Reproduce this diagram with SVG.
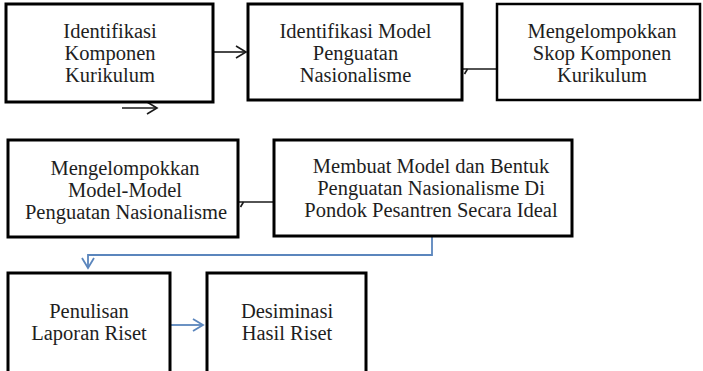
<svg xmlns="http://www.w3.org/2000/svg" width="703" height="371" viewBox="0 0 703 371">
  <style>
    .box { fill: #ffffff; stroke: #000000; stroke-width: 3; }
    .lbl { font-family: 'Liberation Serif', 'Noto Serif', 'DejaVu Serif', 'Nimbus Roman', 'Nimbus Roman No9 L', 'FreeSerif', 'Times', serif; font-size: 20.5px; fill: #1e1e1e; text-anchor: middle; }
    .blk { fill: none; stroke: #1a1a1a; stroke-width: 1.6; }
    .blu { fill: none; stroke: #5b86bd; stroke-width: 1.8; }
  </style>
  <defs>
    <marker id="headBlack" markerUnits="userSpaceOnUse" markerWidth="14" markerHeight="16" refX="11" refY="7" orient="auto">
      <path d="M1,1 L11,7 L1,13" fill="none" stroke="#1a1a1a" stroke-width="1.6"/>
    </marker>
    <marker id="headBlue" markerUnits="userSpaceOnUse" markerWidth="14" markerHeight="16" refX="11" refY="7" orient="auto">
      <path d="M1,1 L11,7 L1,13" fill="none" stroke="#5b86bd" stroke-width="1.8"/>
    </marker>
  </defs>

  <rect width="703" height="371" fill="#ffffff"/>

  <!-- connectors -->
  <g id="connectors">
    <line class="blk" x1="214" y1="52" x2="246" y2="52" marker-end="url(#headBlack)"/>
    <line class="blk" x1="122" y1="108" x2="157" y2="108" marker-end="url(#headBlack)"/>
    <line class="blk" x1="462" y1="69" x2="497" y2="69"/>
    <line class="blk" x1="464.5" y1="74" x2="467.5" y2="69"/>
    <line class="blk" x1="238" y1="202" x2="274" y2="202"/>
    <line class="blk" x1="240.5" y1="207" x2="243.5" y2="202"/>
    <polyline class="blu" points="432,237 432,255 88,255 88,268" marker-end="url(#headBlue)"/>
    <line class="blu" x1="171" y1="325" x2="203" y2="325" marker-end="url(#headBlue)"/>
  </g>

  <!-- row 1 -->
  <g id="identifikasi-komponen">
    <rect class="box" x="6" y="4" width="207" height="98"/>
    <text class="lbl" x="110" y="38">Identifikasi</text>
    <text class="lbl" x="110" y="60">Komponen</text>
    <text class="lbl" x="110" y="82">Kurikulum</text>
  </g>

  <g id="identifikasi-model">
    <rect class="box" x="248" y="4" width="214" height="96"/>
    <text class="lbl" x="355.5" y="38">Identifikasi Model</text>
    <text class="lbl" x="355.5" y="60">Penguatan</text>
    <text class="lbl" x="355.5" y="82">Nasionalisme</text>
  </g>

  <g id="skop-komponen">
    <rect class="box" x="497" y="4" width="203" height="96" style="stroke-width:2.5"/>
    <text class="lbl" x="602" y="38">Mengelompokkan</text>
    <text class="lbl" x="602" y="60">Skop Komponen</text>
    <text class="lbl" x="602" y="82">Kurikulum</text>
  </g>

  <!-- row 2 -->
  <g id="model-model">
    <rect class="box" x="8" y="140" width="230" height="97"/>
    <text class="lbl" x="125" y="175">Mengelompokkan</text>
    <text class="lbl" x="125" y="197">Model-Model</text>
    <text class="lbl" x="126" y="219">Penguatan Nasionalisme</text>
  </g>

  <g id="model-ideal">
    <rect class="box" x="274" y="140" width="298" height="96"/>
    <text class="lbl" x="431" y="173">Membuat Model dan Bentuk</text>
    <text class="lbl" x="431" y="195">Penguatan Nasionalisme Di</text>
    <text class="lbl" x="431" y="217">Pondok Pesantren Secara Ideal</text>
  </g>

  <!-- row 3 -->
  <g id="laporan-riset">
    <rect class="box" x="8" y="273" width="162" height="110"/>
    <text class="lbl" x="89" y="318">Penulisan</text>
    <text class="lbl" x="89" y="340">Laporan Riset</text>
  </g>

  <g id="desiminasi">
    <rect class="box" x="207" y="273" width="159" height="110"/>
    <text class="lbl" x="287" y="318">Desiminasi</text>
    <text class="lbl" x="287" y="340">Hasil Riset</text>
  </g>
</svg>
